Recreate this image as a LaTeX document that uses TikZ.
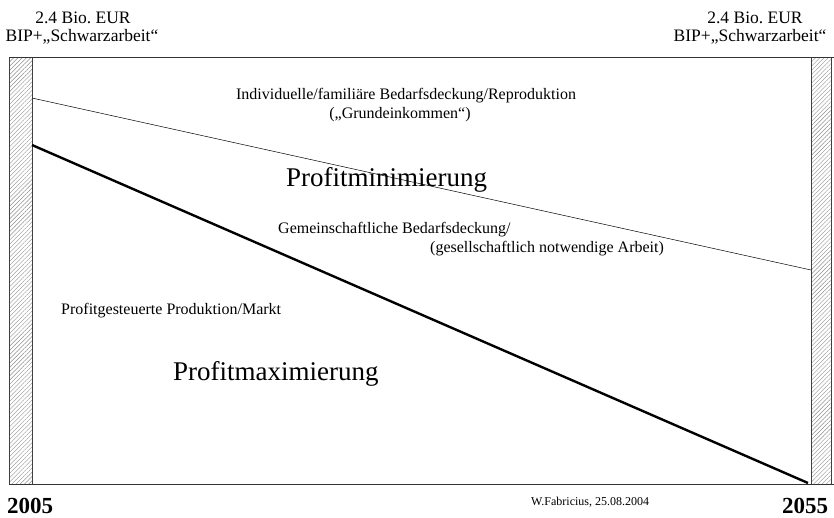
\documentclass[tikz,border=0pt]{standalone}
\usepackage{fontspec}
\setmainfont{Liberation Serif}
\usetikzlibrary{patterns.meta}

\begin{document}
\begin{tikzpicture}[x=1pt, y=-1pt, inner sep=0pt,
  headtxt/.style={font=\fontsize{17.5}{20}\selectfont, anchor=base},
  areatxt/.style={font=\fontsize{16}{19}\selectfont},
  bigtxt/.style={font=\fontsize{27}{30}\selectfont, anchor=base west},
  yeartxt/.style={font=\fontsize{23}{26}\selectfont\bfseries, anchor=base west},
  hatchbar/.style={draw=black!75, pattern={Lines[angle=45, distance=3pt, line width=0.4pt]}, pattern color=black!45}]
  \useasboundingbox (0,0) rectangle (834,517);
  % time axis frame
  \draw[hatchbar] (9,57) rectangle (32,484);
  \draw[hatchbar] (811,57) rectangle (831,484);
  \draw[black!80] (9,57) -- (834,57);
  \draw[black!80] (9,484) -- (834,484);
  % boundaries between the sectors
  \coordinate (grundL) at (32,98);
  \coordinate (grundR) at (811,270);
  \coordinate (marktL) at (32,145);
  \coordinate (marktR) at (808,483);
  \draw[line width=0.5pt] (grundL) -- (grundR);
  \draw[line width=2.4pt] (marktL) -- (marktR);
  % totals at both ends
  \node[headtxt] (bioL) at (83,23) {2.4 Bio.\ EUR};
  \node[headtxt] (bipL) at (82,41) {BIP+„Schwarzarbeit“};
  \node[headtxt] (bioR) at (755,23) {2.4 Bio.\ EUR};
  \node[headtxt] (bipR) at (750,41) {BIP+„Schwarzarbeit“};
  % sectors
  \node[areatxt, anchor=base] (indiv) at (406,99) {Individuelle/familiäre Bedarfsdeckung/Reproduktion};
  \node[areatxt, anchor=base] (grund) at (400,118) {(„Grundeinkommen“)};
  \node[bigtxt] (pmin) at (286,186) {Profitminimierung};
  \node[areatxt, anchor=base west] (gemein) at (278,233) {Gemeinschaftliche Bedarfsdeckung/};
  \node[areatxt, anchor=base west] (gesell) at (430,252) {(gesellschaftlich notwendige Arbeit)};
  \node[areatxt, anchor=base west] (markt) at (61,314) {Profitgesteuerte Produktion/Markt};
  \node[bigtxt] (pmax) at (173,380) {Profitmaximierung};
  % years and signature
  \node[yeartxt] (yrA) at (7,513) {2005};
  \node[yeartxt] (yrB) at (782,513) {2055};
  \node[font=\fontsize{12}{14}\selectfont, anchor=base west] (sign) at (531,505) {W.Fabricius, 25.08.2004};
\end{tikzpicture}
\end{document}
